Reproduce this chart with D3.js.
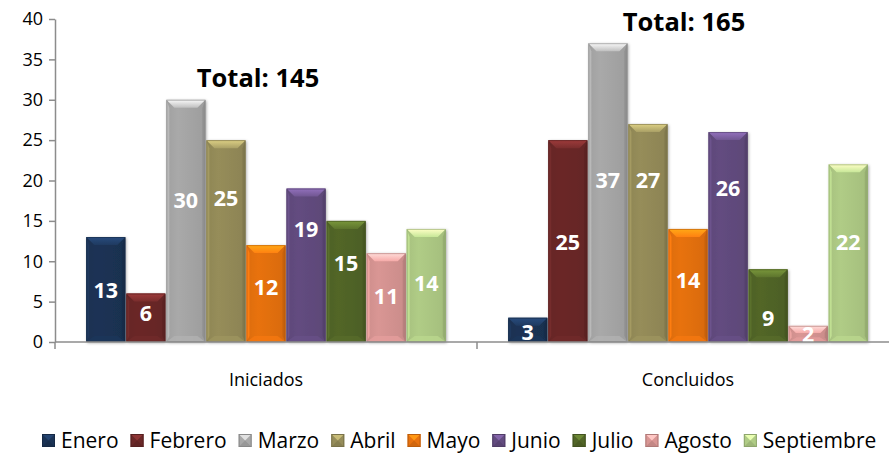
<!DOCTYPE html>
<html>
<head>
<meta charset="utf-8">
<script src="https://cdn.jsdelivr.net/npm/d3@7"></script>
<style>
  body { margin: 0; background: #fff; }
  svg { display: block; font-family: "Open Sans", sans-serif; }
</style>
</head>
<body>
<div id="chart"></div>
<script>
var width = 889;
var height = 455;

// data
var categories = ["Iniciados", "Concluidos"];
var months = ["Enero", "Febrero", "Marzo", "Abril", "Mayo", "Junio", "Julio", "Agosto", "Septiembre"];
var iniciados = [13, 6, 30, 25, 12, 19, 15, 11, 14];
var concluidos = [3, 25, 37, 27, 14, 26, 9, 2, 22];
var yTicks = [0, 5, 10, 15, 20, 25, 30, 35, 40];
// where the labels were moved to in the original (value units)
var labelAtIniciados = [6.4, 3.5, 17.5, 17.8, 6.8, 13.9, 9.8, 5.7, 7.3];
var labelAtConcluidos = [1.2, 12.3, 20, 20, 7.7, 19.1, 3.0, 0.9, 12.3];

var colors = ["#1b3355", "#6b2828", "#a9a9a9", "#968d5a", "#e8720f", "#634c80", "#526628", "#d99694", "#b0cc86"];

var series = [iniciados, concluidos];
var labelAt = [labelAtIniciados, labelAtConcluidos];

var svg = d3.select("#chart").append("svg")
    .attr("width", width).attr("height", height);

var defs = svg.append("defs");
var shadow = defs.append("filter").attr("id", "shadow")
    .attr("x", "-20%").attr("y", "-20%").attr("width", "140%").attr("height", "140%");
shadow.append("feDropShadow").attr("dx", 1).attr("dy", 1)
    .attr("stdDeviation", 1.6).attr("flood-color", "#000").attr("flood-opacity", 0.35);

colors.forEach(function(c, i) {
    var base = d3.color(c);
    var g = defs.append("linearGradient").attr("id", "top" + i)
        .attr("x1", 0).attr("y1", 0).attr("x2", 0).attr("y2", 1);
    g.append("stop").attr("offset", "0%").attr("stop-color", base.brighter(1.1));
    g.append("stop").attr("offset", "100%").attr("stop-color", base.brighter(0.35));
    var f = defs.append("linearGradient").attr("id", "face" + i)
        .attr("x1", 0).attr("y1", 0).attr("x2", 1).attr("y2", 0);
    f.append("stop").attr("offset", "0%").attr("stop-color", base.darker(0.15));
    f.append("stop").attr("offset", "30%").attr("stop-color", base);
    f.append("stop").attr("offset", "100%").attr("stop-color", base.darker(0.2));
});

var x0 = d3.scaleBand().domain(categories).range([55, 899]);
var x1 = d3.scaleBand().domain(months).range([0, x0.bandwidth()])
    .paddingInner(0.025).paddingOuter(0.78);
var y = d3.scaleLinear().domain([0, 40]).range([342, 19]);

// y axis
var yAxis = svg.append("g").attr("transform", "translate(55,0)")
    .call(d3.axisLeft(y).tickValues(yTicks).tickSize(6).tickPadding(6).tickSizeOuter(0));
yAxis.select(".domain").attr("stroke", "#8c8c8c").attr("stroke-width", 1.5);
yAxis.selectAll(".tick line").attr("stroke", "#8c8c8c").attr("stroke-width", 1.5);
yAxis.selectAll(".tick text").attr("font-size", 18).attr("fill", "#000")
    .attr("font-family", "'Open Sans', sans-serif");

function bevelBar(g, x, yTop, w, h, ci) {
    var c = d3.color(colors[ci]);
    var bt = Math.min(8, h * 0.45), bs = Math.min(3, w / 4), bb = Math.min(6, h * 0.3);
    g.append("rect").attr("x", x).attr("y", yTop).attr("width", w).attr("height", h)
        .attr("fill", "url(#face" + ci + ")").attr("filter", "url(#shadow)");
    // bottom bevel
    g.append("polygon").attr("fill", c.brighter(0.15)).attr("opacity", 0.8)
        .attr("points", [[x, yTop + h], [x + w, yTop + h], [x + w - bs - 5, yTop + h - bb], [x + bs + 5, yTop + h - bb]].join(" "));
    // side bevels
    g.append("polygon").attr("fill", c.brighter(0.25))
        .attr("points", [[x, yTop], [x + bs, yTop + bt], [x + bs, yTop + h - bb], [x, yTop + h]].join(" "));
    g.append("polygon").attr("fill", c.darker(0.45))
        .attr("points", [[x + w, yTop], [x + w - bs, yTop + bt], [x + w - bs, yTop + h - bb], [x + w, yTop + h]].join(" "));
    // top bevel
    g.append("polygon").attr("fill", "url(#top" + ci + ")")
        .attr("points", [[x, yTop], [x + w, yTop], [x + w - bt, yTop + bt], [x + bt, yTop + bt]].join(" "));
    g.append("rect").attr("x", x + 0.5).attr("y", yTop + 0.5).attr("width", w - 1).attr("height", h - 1)
        .attr("fill", "none").attr("stroke", c.darker(0.6)).attr("stroke-width", 1).attr("stroke-opacity", 0.6);
}

// bars
var groups = svg.selectAll("g.cat").data(categories).enter().append("g")
    .attr("class", "cat")
    .attr("transform", function(d) { return "translate(" + x0(d) + ",0)"; });

groups.each(function(cat, ci) {
    var g = d3.select(this);
    series[ci].forEach(function(v, i) {
        bevelBar(g, x1(months[i]), y(v), x1.bandwidth(), y(0) - y(v), i);
    });
    g.selectAll("text.val").data(series[ci]).enter().append("text")
        .attr("class", "val")
        .attr("x", function(d, i) { return x1(months[i]) + x1.bandwidth() / 2; })
        .attr("y", function(d, i) { return y(labelAt[ci][i]); })
        .attr("dy", "0.36em")
        .attr("text-anchor", "middle")
        .attr("font-size", 21.5).attr("font-weight", "bold").attr("fill", "#fff")
        .text(function(d) { return d; });
});

// x axis
svg.append("line").attr("x1", 55).attr("x2", 899).attr("y1", y(0)).attr("y2", y(0))
    .attr("stroke", "#8c8c8c").attr("stroke-width", 1.5);
svg.selectAll("line.xtick").data(categories.concat([null])).enter().append("line")
    .attr("class", "xtick")
    .attr("x1", function(d, i) { return i < categories.length ? x0(d) : x0.range()[1]; })
    .attr("x2", function(d, i) { return i < categories.length ? x0(d) : x0.range()[1]; })
    .attr("y1", y(0)).attr("y2", y(0) + 7)
    .attr("stroke", "#8c8c8c").attr("stroke-width", 1.5);
svg.selectAll("text.cat").data(categories).enter().append("text")
    .attr("class", "cat")
    .attr("x", function(d) { return x0(d) + x0.bandwidth() / 2; })
    .attr("y", 386)
    .attr("text-anchor", "middle").attr("font-size", 18)
    .text(function(d) { return d; });

// totals
var totalPos = [[258, 87], [684, 31]];
categories.forEach(function(c, ci) {
    svg.append("text")
        .attr("x", totalPos[ci][0]).attr("y", totalPos[ci][1])
        .attr("text-anchor", "middle").attr("font-size", 25.5).attr("font-weight", "bold")
        .text("Total: " + d3.sum(series[ci]));
});

// legend
var legend = svg.append("g");
var lx = 42;
months.forEach(function(m, i) {
    var item = legend.append("g");
    var mk = item.append("g");
    bevelMarker(mk, lx, 434, 13, 13, i);
    var t = item.append("text").attr("x", lx + 19).attr("y", 448)
        .attr("font-size", 21).text(m);
    lx += 19 + t.node().getComputedTextLength() + 12;
});

function bevelMarker(g, x, yTop, w, h, ci) {
    var c = d3.color(colors[ci]);
    g.append("rect").attr("x", x).attr("y", yTop).attr("width", w).attr("height", h).attr("fill", c);
    g.append("polygon").attr("fill", c.brighter(0.8))
        .attr("points", [[x, yTop], [x + w, yTop], [x + w / 2, yTop + h / 2]].join(" "));
    g.append("polygon").attr("fill", c.darker(0.3))
        .attr("points", [[x, yTop + h], [x + w, yTop + h], [x + w / 2, yTop + h / 2]].join(" "));
    g.append("rect").attr("x", x + 0.5).attr("y", yTop + 0.5).attr("width", w - 1).attr("height", h - 1)
        .attr("fill", "none").attr("stroke", c.darker(0.6)).attr("stroke-width", 1);
}
</script>
</body>
</html>
